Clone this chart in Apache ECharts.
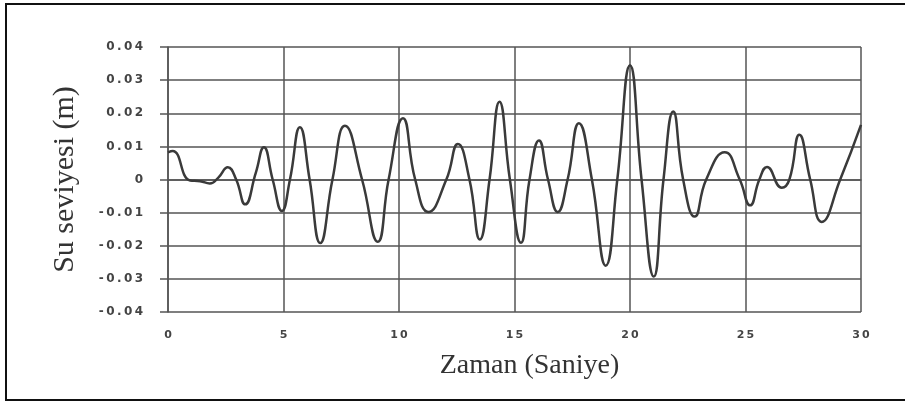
<!DOCTYPE html>
<html>
<head>
<meta charset="utf-8">
<script src="https://cdn.jsdelivr.net/npm/echarts@6/dist/echarts.min.js"></script>
<style>
  html, body { margin: 0; padding: 0; background: #fff; }
  #chart { width: 905px; height: 405px; }
</style>
</head>
<body>
<div id="chart"></div>
<script>
// time (s) and water level (m)
const time = [
  0, 0.2, 0.96, 1.39, 1.81, 2.17, 2.59, 2.95, 3.34, 3.8, 4.15, 4.53, 4.93,
  5.28, 5.71, 6.13, 6.59, 7.12, 7.66, 8.4, 9.08, 9.55, 10.17, 10.7, 11.27, 12.05,
  12.55, 13.05, 13.5, 13.92, 14.35, 14.8, 15.28, 15.65, 16.06, 16.45, 16.87, 17.3,
  17.79, 18.35, 18.95, 19.45, 20.0, 20.5, 21.03, 21.45, 21.87, 22.3, 22.8, 23.3,
  24.1, 24.75, 25.2, 25.6, 25.93, 26.57, 26.9, 27.33, 27.8, 28.3, 29.1, 30
];
const level = [
  0.0082, 0.0086, -0.0003, -0.0005, -0.0012, 0.0005, 0.0037, 0, -0.0075, 0.002, 0.0097, 0, -0.0095,
  0, 0.0158, 0, -0.0192, 0, 0.0162, 0, -0.0188, 0, 0.0185, 0, -0.0098, 0,
  0.0107, 0, -0.0181, 0, 0.0235, 0, -0.0191, 0, 0.0118, 0, -0.0098, 0,
  0.017, 0, -0.026, 0, 0.0345, 0, -0.0293, 0, 0.0205, 0, -0.0112, 0,
  0.0082, 0, -0.0078, 0, 0.0038, -0.0025, 0, 0.0135, 0, -0.0128, 0, 0.0165
];
const xTicks = [0, 5, 10, 15, 20, 25, 30];
const yTicks = [-0.04, -0.03, -0.02, -0.01, 0, 0.01, 0.02, 0.03, 0.04];

const gridColor = "#555";
// the scanned labels are widely spaced, so put thin spaces between the characters
const spaced = (s) => s.split("").join("\u2009");

const chart = echarts.init(document.getElementById("chart"));
chart.setOption({
  animation: false,
  backgroundColor: "#fff",
  graphic: [
    {
      type: "rect",
      shape: { x: 6, y: 4, width: 910, height: 396 },
      style: { fill: "none", stroke: "#111", lineWidth: 2 },
    },
  ],
  grid: { left: 168, right: 44, top: 47, bottom: 93 },
  xAxis: {
    type: "value",
    min: xTicks[0],
    max: xTicks[xTicks.length - 1],
    interval: 5,
    name: "Zaman (Saniye)",
    nameLocation: "middle",
    nameGap: 40,
    nameTextStyle: { fontFamily: "Liberation Serif", fontSize: 28, color: "#333", padding: [0, 0, 0, 30] },
    axisLine: { show: true, lineStyle: { color: gridColor, width: 1.5 } },
    axisTick: { show: false },
    axisLabel: {
      margin: 18,
      fontFamily: "DejaVu Sans",
      fontWeight: "bold",
      fontSize: 11,
      color: "#444",
      formatter: (v) => spaced(String(v)),
    },
    splitLine: { show: true, lineStyle: { color: gridColor, width: 1.5 } },
  },
  yAxis: {
    type: "value",
    min: yTicks[0],
    max: yTicks[yTicks.length - 1],
    interval: 0.01,
    name: "Su seviyesi (m)",
    nameLocation: "middle",
    nameGap: 88,
    nameTextStyle: { fontFamily: "Liberation Serif", fontSize: 30, color: "#333" },
    axisLine: { show: true, lineStyle: { color: gridColor, width: 1.5 } },
    axisTick: { show: true, length: 8, lineStyle: { color: gridColor, width: 1.5 } },
    axisLabel: {
      margin: 25,
      fontFamily: "DejaVu Sans",
      fontWeight: "bold",
      fontSize: 12,
      color: "#444",
      formatter: (v) => spaced(Math.abs(v) < 1e-9 ? "0" : v.toFixed(2)),
    },
    splitLine: { show: true, lineStyle: { color: gridColor, width: 1.5 } },
  },
  series: [
    {
      type: "line",
      data: time.map((t, i) => [t, level[i]]),
      smooth: 0.5,
      showSymbol: false,
      lineStyle: { color: "#3a3a3a", width: 2.5 },
    },
  ],
});
</script>
</body>
</html>
